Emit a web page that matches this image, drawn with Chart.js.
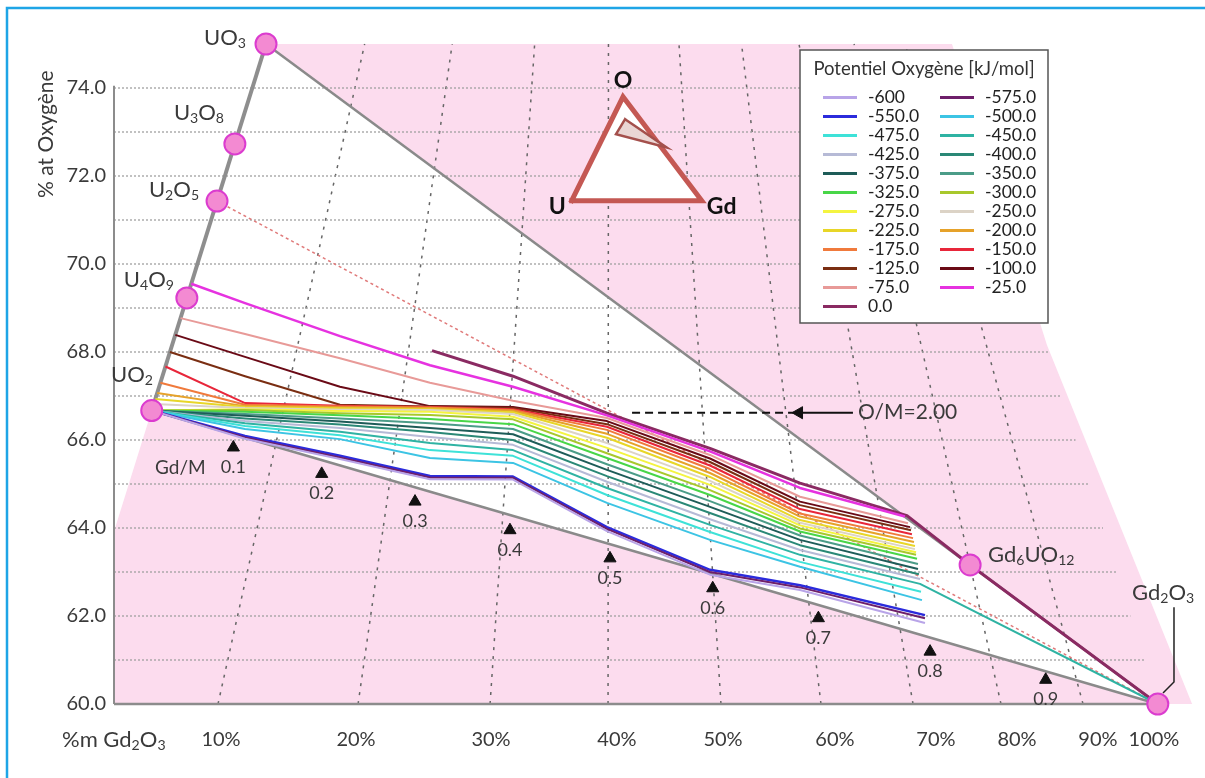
<!DOCTYPE html>
<html>
<head>
<meta charset="utf-8">
<script src="https://cdn.jsdelivr.net/npm/chart.js@4.4.1/dist/chart.umd.min.js"></script>
<style>
  html, body { margin: 0; padding: 0; background: #fff; }
</style>
</head>
<body>
<canvas id="chart" width="1205" height="778"></canvas>
<script>
// horizontal coordinate: xO + 2*xGd (in %), so the U-O edge is X = y and the Gd-O edge is X = 200 - y
const X_LEFT = 63.92;
const X_RIGHT = 143.44;

const yTicks = [60, 62, 64, 66, 68, 70, 72, 74];
const xTickPos = [71.72, 81.56, 91.40, 100.58, 108.31, 116.47, 123.83, 129.74, 135.64, 139.72];
const xTickLabels = ['10%', '20%', '30%', '40%', '50%', '60%', '70%', '80%', '90%', '100%'];

// phases on the diagram
const phaseNames = ['UO_3', 'U_3O_8', 'U_2O_5', 'U_4O_9', 'UO_2', 'Gd_6UO_12', 'Gd_2O_3'];
const phaseX = [75, 72.73, 71.43, 69.23, 66.67, 126.32, 140];
const phaseY = [75, 72.73, 71.43, 69.23, 66.67, 63.16, 60];

// Gd/M marks along the UO2 - Gd2O3 side
const gdmLabels = ['0.1', '0.2', '0.3', '0.4', '0.5', '0.6', '0.7', '0.8', '0.9'];
const gdmX = [72.62, 79.06, 85.86, 92.78, 100.07, 107.56, 115.26, 123.40, 131.83];
const gdmY = [65.83, 65.23, 64.60, 63.95, 63.31, 62.63, 61.95, 61.19, 60.55];

// iso wt% Gd2O3 lines (bottom at 60 %, top at 75 %)
const wtLineBottom = [71.50, 81.71, 91.33, 99.93, 108.16, 115.45, 122.16, 128.57, 134.55];
const wtLineTop = [82.19, 88.57, 94.58, 99.96, 105.10, 109.66, 113.85, 117.86, 121.59];
const hGridY = [61, 62, 63, 64, 65, 66, 67, 68, 69, 70, 71, 72, 73, 74];

// iso oxygen potential curves [X, % O]
const p600 = [[66.67,66.67],[73.47,66.03],[80.39,65.57],[86.95,65.11],[93.00,65.10],[99.85,63.93],[107.36,62.94],[113.92,62.59],[123.03,61.84]];
const p575 = [[66.67,66.67],[73.47,66.06],[80.39,65.60],[86.95,65.15],[93.00,65.14],[99.85,63.98],[107.36,63.00],[113.92,62.65],[123.03,61.95]];
const p550 = [[66.67,66.67],[73.47,66.09],[80.39,65.64],[86.95,65.18],[93.00,65.17],[99.85,64.02],[107.36,63.05],[113.92,62.70],[123.03,62.02]];
const p500 = [[66.67,66.67],[73.47,66.25],[80.39,66.02],[86.95,65.59],[93.00,65.48],[99.85,64.57],[107.36,63.73],[113.92,63.12],[122.81,62.36]];
const p475 = [[66.67,66.67],[73.47,66.32],[80.39,66.11],[86.95,65.77],[93.00,65.64],[99.85,64.75],[107.36,63.91],[113.92,63.23],[122.74,62.55]];
const p450 = [[66.67,66.67],[73.47,66.38],[80.39,66.19],[86.95,65.93],[93.00,65.77],[99.85,64.91],[107.36,64.07],[113.92,63.39],[122.67,62.73],[140,60]];
const p425 = [[66.67,66.67],[73.47,66.43],[80.39,66.27],[86.95,66.07],[93.00,65.89],[99.85,65.05],[107.36,64.20],[113.92,63.50],[122.67,62.84]];
const p400 = [[66.67,66.67],[73.47,66.49],[80.39,66.35],[86.95,66.18],[93.00,66.00],[99.85,65.18],[107.36,64.34],[113.92,63.61],[122.59,62.95]];
const p375 = [[66.67,66.67],[73.47,66.55],[80.39,66.42],[86.95,66.27],[93.00,66.13],[99.85,65.32],[107.36,64.48],[113.92,63.73],[122.52,63.07]];
const p350 = [[66.67,66.67],[73.47,66.59],[80.39,66.49],[86.95,66.38],[93.00,66.25],[99.85,65.45],[107.36,64.61],[113.92,63.83],[122.52,63.18]];
const p325 = [[66.67,66.67],[73.47,66.64],[80.39,66.56],[86.95,66.48],[93.00,66.36],[99.85,65.59],[107.36,64.75],[113.92,63.92],[122.45,63.30]];
const p300 = [[66.67,66.67],[73.47,66.68],[80.39,66.61],[86.95,66.57],[93.00,66.47],[99.85,65.70],[107.36,64.86],[113.92,63.99],[122.38,63.39]];
const p275 = [[66.67,66.67],[73.47,66.70],[80.39,66.66],[86.95,66.64],[93.00,66.53],[99.85,65.82],[107.36,64.98],[113.92,64.06],[122.38,63.45]];
const p250 = [[66.82,66.82],[73.47,66.73],[80.39,66.69],[86.95,66.68],[93.00,66.59],[99.85,65.93],[107.36,65.07],[113.92,64.12],[122.30,63.52]];
const p225 = [[66.93,66.93],[73.47,66.75],[80.39,66.72],[86.95,66.70],[93.00,66.63],[99.85,66.05],[107.36,65.16],[113.92,64.18],[122.30,63.59]];
const p200 = [[67.07,67.07],[73.47,66.77],[80.39,66.74],[86.95,66.73],[93.00,66.66],[99.85,66.14],[107.36,65.25],[113.92,64.26],[122.23,63.68]];
const p175 = [[67.30,67.30],[73.47,66.80],[80.39,66.76],[86.95,66.74],[93.00,66.68],[99.85,66.23],[107.36,65.34],[113.92,64.33],[122.16,63.77]];
const p150 = [[67.67,67.67],[73.47,66.84],[80.39,66.78],[86.95,66.75],[93.00,66.70],[99.85,66.30],[107.36,65.42],[113.92,64.43],[122.08,63.86]];
const p125 = [[68.00,68.00],[73.47,67.45],[80.39,66.80],[86.95,66.76],[93.00,66.73],[99.85,66.36],[107.36,65.50],[113.92,64.52],[122.01,63.95]];
const p100 = [[68.39,68.39],[73.47,67.89],[80.39,67.21],[86.95,66.77],[93.00,66.75],[99.85,66.43],[107.36,65.58],[113.92,64.60],[121.94,64.02]];
const p75 = [[68.77,68.77],[73.47,68.41],[80.39,67.86],[86.95,67.30],[93.00,66.89],[99.85,66.50],[107.36,65.66],[113.92,64.71],[121.79,64.11]];
const p25 = [[69.55,69.55],[73.47,69.11],[80.39,68.36],[86.95,67.70],[93.00,67.21],[99.85,66.56],[107.36,65.74],[113.92,64.91],[121.57,64.26]];
const p0 = [[87.10,68.03],[93.00,67.45],[99.85,66.61],[107.36,65.81],[113.92,65.02],[121.72,64.28],[126.32,63.16],[140,60]];

const potentialLabels = ['-600', '-575.0', '-550.0', '-500.0', '-475.0', '-450.0', '-425.0', '-400.0',
  '-375.0', '-350.0', '-325.0', '-300.0', '-275.0', '-250.0', '-225.0', '-200.0', '-175.0',
  '-150.0', '-125.0', '-100.0', '-75.0', '-25.0', '0.0'];
const seriesPoints = [p600, p575, p550, p500, p475, p450, p425, p400, p375, p350, p325, p300,
  p275, p250, p225, p200, p175, p150, p125, p100, p75, p25, p0];
const seriesColors = ['#b8a4e8', '#6e1f6a', '#2b2bdc', '#3cc4e4', '#3ee2d8', '#2fb3a3', '#b6bad6',
  '#2a8876', '#1e5c58', '#4b9c88', '#48d648', '#a8c82c', '#f4f440', '#dcd3c6', '#e8d628',
  '#e6a22a', '#f07a3c', '#e8263a', '#7a2e12', '#6a0a16', '#e89a98', '#e632e0', '#8a2a62'];
const seriesWidths = [2, 2, 2.5, 2, 2, 2, 2, 2, 2, 2, 2, 2, 2, 2, 2, 2, 2, 2, 2, 2, 2, 2.5, 3];

// shapes
const pinkZone = [[X_LEFT,60],[X_LEFT,63.92],[75,75],[125,75],[131.92,68.16],[142.5,60],[X_LEFT,60]];
const whiteZone = [[66.67,66.67],[75,75],[140,60],[66.67,66.67]];
const insetTri = [[97.28,71.44],[101.02,73.80],[106.76,71.44],[97.28,71.44]];
const insetCut = [[101.17,73.29],[104.20,72.65],[100.51,72.95],[101.17,73.29]];
const omDash = [[101.68,66.62],[113.41,66.62]];
const omSolid = [[113.41,66.62],[117.78,66.62]];
const gd2o3Leader = [[141.18,62.20],[141.18,60.50],[140.38,60.25]];

function pts(a) { return a.map(p => ({ x: p[0], y: p[1] })); }
function seg(a, color, width, dash, order) {
  return { data: pts(a), showLine: true, borderColor: color, borderWidth: width, borderDash: dash || [],
    pointRadius: 0, fill: false, clip: false, order: order };
}
function poly(a, fillColor, order, border, bw) {
  return { data: pts(a), showLine: true, fill: 'shape', backgroundColor: fillColor,
    borderColor: border || 'rgba(0,0,0,0)', borderWidth: bw || 0, pointRadius: 0, order: order,
    clip: false, borderJoinStyle: 'miter', borderCapStyle: 'square' };
}

const datasets = [];
datasets.push(poly(pinkZone, '#fcdcee', 100));
datasets.push(poly(whiteZone, '#ffffff', 99));
hGridY.forEach(v => datasets.push(seg([[X_LEFT, v], [200 - v, v]], '#a0a0a0', 1.3, [2, 2], 90)));
wtLineBottom.forEach((b, i) => datasets.push(seg([[b, 60], [wtLineTop[i], 75]], '#666666', 1.5, [3, 6], 90)));
datasets.push(seg([[X_LEFT, 60], [X_LEFT, 74.05]], '#8c8c8c', 2, null, 80));
datasets.push(seg([[X_LEFT, 60], [140, 60]], '#8c8c8c', 2.5, null, 80));
datasets.push(seg([[66.67, 66.67], [75, 75]], '#8e8e8e', 4, null, 80));
datasets.push(seg([[75, 75], [140, 60]], '#8a8a8a', 2.5, null, 80));
datasets.push(seg([[66.67, 66.67], [140, 60]], '#8a8a8a', 2.5, null, 80));
datasets.push(seg([[71.43, 71.43], [140, 60]], '#e07a7a', 1.5, [3, 3], 80));
datasets.push(poly(insetTri, '#ffffff', 70, '#c45853', 5));
datasets.push(poly(insetCut, '#ead6d4', 69, '#a4504c', 2.5));
datasets.push(seg(omDash, '#111111', 2, [8, 5], 60));
datasets.push(seg(omSolid, '#111111', 2, null, 60));
datasets.push(seg(gd2o3Leader, '#222222', 1.5, null, 60));

seriesPoints.forEach((s, i) => datasets.push({
  label: potentialLabels[i], data: pts(s), showLine: true, borderColor: seriesColors[i],
  borderWidth: seriesWidths[i], pointRadius: 0, fill: false, clip: false, order: 10,
  borderJoinStyle: 'round'
}));

datasets.push({ data: phaseX.map((x, i) => ({ x: x, y: phaseY[i] })), showLine: false,
  pointRadius: 10.5, pointBackgroundColor: '#f38ad2', pointBorderColor: '#db3ccf',
  pointBorderWidth: 2, clip: false, order: 1 });
datasets.push({ data: gdmX.map((x, i) => ({ x: x, y: gdmY[i] })), showLine: false,
  pointStyle: 'triangle', pointRadius: 7, pointBackgroundColor: '#111', pointBorderColor: '#111',
  pointBorderWidth: 1, clip: false, order: 1 });
datasets.push({ data: [{ x: 113.85, y: 66.62 }], showLine: false, pointStyle: 'triangle',
  rotation: 270, pointRadius: 7, pointBackgroundColor: '#111', pointBorderColor: '#111',
  clip: false, order: 1 });

// labels placed in data units
const phaseLabelPos = [
  { x: 73.54, y: 75.14, align: 'right' },
  { x: 71.94, y: 73.43, align: 'right' },
  { x: 70.12, y: 71.68, align: 'right' },
  { x: 68.29, y: 69.64, align: 'right' },
  { x: 66.76, y: 67.48, align: 'right' },
  { x: 127.62, y: 63.39, align: 'left' },
  { x: 138.12, y: 62.52, align: 'left' }
];

function tokens(str) {
  const out = [];
  let i = 0;
  while (i < str.length) {
    if (str[i] === '_') {
      let j = i + 1;
      while (j < str.length && /\d/.test(str[j])) j++;
      out.push({ t: str.slice(i + 1, j), sub: true });
      i = j;
    } else {
      let j = i;
      while (j < str.length && str[j] !== '_') j++;
      out.push({ t: str.slice(i, j), sub: false });
      i = j;
    }
  }
  return out;
}

function formula(c, str, x, y, size, align, weight) {
  const tk = tokens(str);
  const f = s => (weight || '') + ' ' + s + 'px Lato';
  let w = 0;
  tk.forEach(t => { c.font = f(t.sub ? size * 0.64 : size); t.w = c.measureText(t.t).width; w += t.w; });
  let cx = align === 'right' ? x - w : (align === 'center' ? x - w / 2 : x);
  c.textAlign = 'left';
  c.textBaseline = 'middle';
  tk.forEach(t => {
    c.font = f(t.sub ? size * 0.64 : size);
    c.fillText(t.t, cx, t.sub ? y + size * 0.26 : y);
    cx += t.w;
  });
}

const figurePlugin = {
  id: 'figure',
  beforeDraw(chart) {
    const c = chart.ctx;
    c.save();
    c.fillStyle = '#ffffff';
    c.fillRect(0, 0, chart.width, chart.height);
    c.strokeStyle = '#1ea5e6';
    c.lineWidth = 2.5;
    c.beginPath();
    c.moveTo(7, chart.height);
    c.lineTo(7, 8);
    c.lineTo(chart.width, 8);
    c.stroke();
    c.restore();
  },
  afterDatasetsDraw(chart) {
    const c = chart.ctx;
    const xs = chart.scales.x, ys = chart.scales.y;
    const px = v => xs.getPixelForValue(v), py = v => ys.getPixelForValue(v);
    c.save();
    c.fillStyle = '#3a3a3a';

    // axis titles
    c.save();
    c.translate(chart.chartArea.left - 68, py(72.95));
    c.rotate(-Math.PI / 2);
    c.font = '21px Lato';
    c.textAlign = 'center';
    c.textBaseline = 'middle';
    c.fillText('% at Oxygène', 0, 0);
    c.restore();
    formula(c, '%m Gd_2O_3', 62, 740, 22, 'left');

    // phase labels
    phaseNames.forEach((n, i) => {
      const p = phaseLabelPos[i];
      formula(c, n, px(p.x), py(p.y), 22, p.align);
    });

    // Gd/M marks
    c.font = '19px Lato';
    c.textAlign = 'left';
    c.textBaseline = 'middle';
    c.fillText('Gd/M', px(66.91), py(65.36));
    c.font = '18px Lato';
    c.textAlign = 'center';
    gdmLabels.forEach((l, i) => c.fillText(l, px(gdmX[i]), py(gdmY[i]) + 19.5));

    // O/M = 2.00
    c.font = '21px Lato';
    c.textAlign = 'left';
    c.fillText('O/M=2.00', px(118.15), py(66.62));

    // inset labels
    c.fillStyle = '#111';
    c.font = 'bold 23px Lato';
    c.textAlign = 'center';
    c.fillText('O', px(101.02), py(74.18));
    c.fillText('U', px(96.23), py(71.30));
    c.fillText('Gd', px(108.21), py(71.30));

    // legend
    const L = 800, T = 50, R = 1048, B = 323;
    c.fillStyle = '#ffffff';
    c.fillRect(L, T, R - L, B - T);
    c.strokeStyle = '#555';
    c.lineWidth = 1.5;
    c.strokeRect(L, T, R - L, B - T);
    c.fillStyle = '#333';
    c.font = '18.5px Lato';
    c.textAlign = 'center';
    c.fillText('Potentiel Oxygène [kJ/mol]', (L + R) / 2, 69);
    c.font = '17.5px Lato';
    c.textAlign = 'left';
    potentialLabels.forEach((lab, i) => {
      const col = i % 2, row = Math.floor(i / 2);
      const y = 97.5 + row * 19;
      const x0 = col ? 940 : 823;
      c.strokeStyle = seriesColors[i];
      c.lineWidth = 3;
      c.beginPath();
      c.moveTo(x0, y);
      c.lineTo(x0 + 34, y);
      c.stroke();
      c.fillStyle = '#222';
      c.fillText(lab, x0 + 45, y);
    });
    c.restore();
  }
};

Chart.defaults.font.family = 'Lato';

new Chart(document.getElementById('chart'), {
  type: 'scatter',
  data: { datasets: datasets },
  options: {
    responsive: false,
    animation: false,
    layout: { autoPadding: false, padding: { top: 44, right: 0, left: 0, bottom: 0 } },
    plugins: { legend: { display: false }, tooltip: { enabled: false } },
    scales: {
      x: {
        type: 'linear', min: X_LEFT, max: X_RIGHT,
        grid: { display: false, drawTicks: false }, border: { display: false },
        afterBuildTicks: s => { s.ticks = xTickPos.map(v => ({ value: v })); },
        afterFit: s => { s.height = 74; s.paddingLeft = 0; s.paddingRight = 0; },
        ticks: { autoSkip: false, maxRotation: 0, padding: 24, color: '#3a3a3a',
          font: { size: 20 }, callback: (v, i) => xTickLabels[i] }
      },
      y: {
        type: 'linear', min: 60, max: 75,
        grid: { display: false, drawTicks: false }, border: { display: false },
        afterBuildTicks: s => { s.ticks = yTicks.map(v => ({ value: v })); },
        afterFit: s => { s.width = 114; s.paddingTop = 0; s.paddingBottom = 0; },
        ticks: { padding: 8, color: '#3a3a3a', font: { size: 20 }, callback: v => v.toFixed(1) }
      }
    }
  },
  plugins: [figurePlugin]
});
</script>
</body>
</html>
